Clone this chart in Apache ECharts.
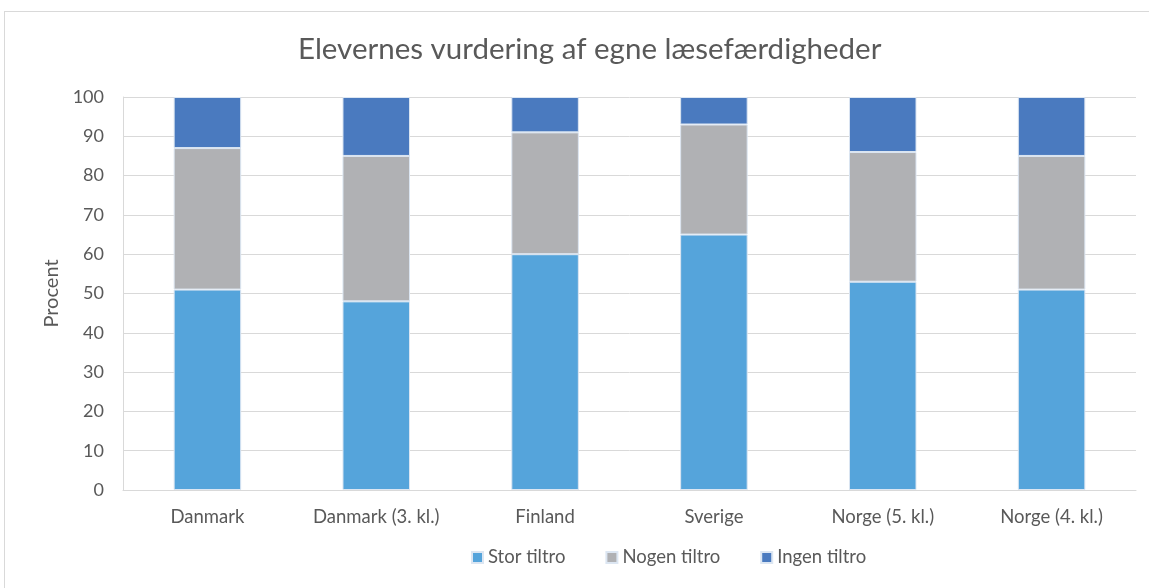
<!DOCTYPE html>
<html>
<head>
<meta charset="utf-8">
<script src="https://cdn.jsdelivr.net/npm/echarts@6/dist/echarts.min.js"></script>
<style>
  html, body { margin: 0; padding: 0; background: #fff; }
  #frame { position: absolute; left: 4px; top: 11px; width: 1150px; height: 590px; border: 1px solid #D9D9D9; box-sizing: border-box; }
  #chart { position: absolute; left: 0; top: 0; width: 1149px; height: 588px; }
</style>
</head>
<body>
<div id="frame"></div>
<div id="chart"></div>
<script>
const categories = ['Danmark', 'Danmark (3. kl.)', 'Finland', 'Sverige', 'Norge (5. kl.)', 'Norge (4. kl.)'];
const storTiltro = [51, 48, 60, 65, 53, 51];
const nogenTiltro = [36, 37, 31, 28, 33, 34];
const ingenTiltro = [13, 15, 9, 7, 14, 15];
const seriesNames = ['Stor tiltro', 'Nogen tiltro', 'Ingen tiltro'];
const seriesColors = ['#55A4DB', '#B0B1B4', '#4A7ABF'];

const font = 'Lato, "Open Sans", sans-serif';
const chart = echarts.init(document.getElementById('chart'), null, { renderer: 'canvas' });

const values = [storTiltro, nogenTiltro, ingenTiltro];
chart.setOption({
  animation: false,
  title: {
    text: 'Elevernes vurdering af egne læsefærdigheder',
    left: 293,
    top: 29,
    textStyle: { fontFamily: font, fontSize: 29.5, fontWeight: 'normal', color: '#595959' }
  },
  legend: {
    bottom: 16,
    left: 466,
    itemWidth: 11,
    itemHeight: 11,
    itemGap: 40,
    icon: 'rect',
    textStyle: { fontFamily: font, fontSize: 18.5, color: '#595959' },
    data: seriesNames
  },
  grid: { left: 123, right: 13, top: 97, bottom: 98 },
  xAxis: {
    type: 'category',
    data: categories,
    axisLine: { lineStyle: { color: '#D9D9D9', width: 1 } },
    axisTick: { show: false },
    axisLabel: { fontFamily: font, fontSize: 18.5, color: '#595959', margin: 18 }
  },
  yAxis: {
    type: 'value',
    min: 0,
    max: 100,
    interval: 10,
    name: 'Procent',
    nameLocation: 'middle',
    nameGap: 60,
    nameTextStyle: { fontFamily: font, fontSize: 20, color: '#595959' },
    axisLine: { show: true, lineStyle: { color: '#D9D9D9' } },
    axisTick: { show: false },
    axisLabel: { fontFamily: font, fontSize: 18, color: '#595959', margin: 19 },
    splitLine: { lineStyle: { color: '#D9D9D9', width: 1 } }
  },
  series: seriesNames.map((name, i) => ({
    name: name,
    type: 'bar',
    stack: 'total',
    barWidth: '40%',
    data: values[i],
    itemStyle: { color: seriesColors[i], borderColor: '#DCE6F2', borderWidth: 1 }
  }))
});
</script>
</body>
</html>
